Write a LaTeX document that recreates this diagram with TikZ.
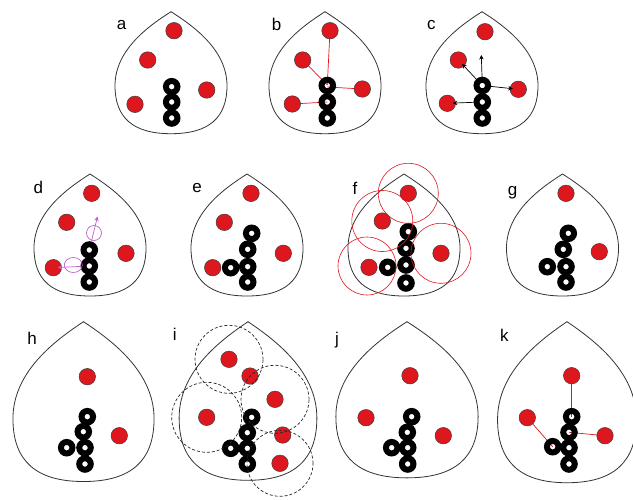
\documentclass[tikz,border=0pt]{standalone}
\usepackage{fontspec}
\setmainfont{Liberation Sans}
\usetikzlibrary{arrows.meta}
\definecolor{discred}{RGB}{222,22,30}
\definecolor{purp}{RGB}{192,96,205}

\begin{document}
\begin{tikzpicture}[x=1pt,y=-1pt]
                \tikzset{disc/.style={circle, draw=black!75, line width=0.5pt, fill=discred, minimum size=16.5pt, inner sep=0pt},
                  ring/.style={circle, draw=black, line width=6pt, minimum size=11.5pt, inner sep=0pt},
                  tag/.style={font=\fontsize{17}{20}\selectfont, inner sep=0pt},
                  link/.style={draw=discred, line width=0.7pt},
                  push/.style={-{Stealth[length=4.5pt,width=4.5pt]}, line width=0.7pt},
                  reach/.style={draw=discred, line width=0.6pt},
                  zone/.style={draw=black!85, dash pattern=on 3pt off 2pt, line width=0.7pt},
                  drop/.pic={\draw[black!80, line width=0.8pt] (0,0) .. controls (-22,14) and (-56,38) .. (-56,74)
                     .. controls (-56,106) and (-38,122) .. (0,122) .. controls (38,122) and (56,106) .. (56,74)
                     .. controls (56,38) and (22,14) .. cycle;}}
                \useasboundingbox (0,0) rectangle (633,499);

                % a
                \pic at (171,11.7) {drop};
                \node[tag] (La) at (121.7,25) {a};
                \node[disc] (A1) at (174,30.7) {};
                \node[disc] (A2) at (147.7,60) {};
                \node[disc] (A3) at (206.7,90) {};
                \node[disc] (A4) at (135,104.3) {};
                \node[ring] (AR1) at (171.7,86.7) {};
                \node[ring] (AR2) at (171.7,102) {};
                \node[ring] (AR3) at (171.7,118) {};

                % b
                \pic at (325,11.7) {drop};
                \node[tag] (Lb) at (276.7,24) {b};
                \draw[link] (330,30.7) -- (327.3,85);
                \draw[link] (302.7,60) -- (327.3,85);
                \draw[link] (362.3,89) -- (327.3,87);
                \draw[link] (292.3,104) -- (327.3,102);
                \node[disc] (B1) at (330,30.7) {};
                \node[disc] (B2) at (302.7,60) {};
                \node[disc] (B3) at (362.3,89) {};
                \node[disc] (B4) at (292.3,104) {};
                \node[ring] (BR1) at (327.3,85.5) {};
                \node[ring] (BR2) at (327.3,102) {};
                \node[ring] (BR3) at (327.3,118) {};

                % c
                \pic at (482,11.7) {drop};
                \node[tag] (Lc) at (431.3,25.3) {c};
                \node[disc] (C1) at (485,31.7) {};
                \node[disc] (C2) at (458.3,60) {};
                \node[disc] (C3) at (518.3,89.3) {};
                \node[disc] (C4) at (447.3,103.3) {};
                \node[ring] (CR1) at (482.3,85.5) {};
                \node[ring] (CR2) at (482.3,102) {};
                \node[ring] (CR3) at (482.3,118) {};
                \coordinate (Cup) at (481.3,55);
                \draw[push] (CR1) -- (Cup);
                \draw[push, shorten >=-3pt] (CR1) -- (C2);
                \draw[push, shorten >=-3pt] (CR1) -- (C3);
                \draw[push, shorten >=-3pt] (CR2) -- (C4);

                % d
                \pic at (90,174) {drop};
                \node[tag] (Ld) at (38.3,187.3) {d};
                \node[disc] (D1) at (91.7,193.3) {};
                \node[disc] (D2) at (66.7,222.3) {};
                \node[disc] (D3) at (126,253.3) {};
                \node[disc] (D4) at (53.3,267.7) {};
                \node[ring] (DR1) at (89.3,250) {};
                \node[ring] (DR2) at (89.3,266) {};
                \node[ring] (DR3) at (89.3,282) {};
                \draw[purp, line width=0.7pt] (94,233) circle[radius=7.5pt];
                \draw[purp, line width=0.7pt] (73.3,265) circle[x radius=9pt, y radius=7.5pt];
                \coordinate (Dup) at (97.5,216.5);
                \draw[purp, push] (DR1) -- (Dup);
                \draw[purp, push, shorten >=-4pt] (DR2) -- (D4);

                % e
                \pic at (247,174) {drop};
                \node[tag] (Le) at (197,188.3) {e};
                \node[disc] (E1) at (251,193.3) {};
                \node[disc] (E2) at (224.3,222.3) {};
                \node[disc] (E3) at (283.3,253.3) {};
                \node[disc] (E4) at (212.7,267.7) {};
                \node[ring] (ER1) at (251.7,233.3) {};
                \node[ring] (ER2) at (247.7,249.3) {};
                \node[ring] (ER3) at (247.7,266.7) {};
                \node[ring] (ER4) at (247.7,282) {};
                \node[ring] (ER5) at (230.7,267.7) {};

                % f
                \pic at (404,174) {drop};
                \node[tag] (Lf) at (355,188.3) {f};
                \node[disc] (F1) at (408.3,193.3) {};
                \node[disc] (F2) at (382.3,221) {};
                \node[disc] (F3) at (441,253.3) {};
                \node[disc] (F4) at (369,267.3) {};
                \node[ring] (FR1) at (408.3,231.7) {};
                \node[ring] (FR2) at (406,248.3) {};
                \node[ring] (FR3) at (406,265) {};
                \node[ring] (FR4) at (406,283) {};
                \node[ring] (FR5) at (387.7,267.3) {};
                \draw[reach] (F1) circle[radius=30pt];
                \draw[reach] (F2) circle[radius=30.5pt];
                \draw[reach] (F3) circle[radius=30pt];
                \draw[reach] (367,266) circle[radius=29pt];

                % g
                \pic at (562.5,174) {drop};
                \node[tag] (Lg) at (512.7,192.7) {g};
                \node[disc] (G1) at (566,193.3) {};
                \node[disc] (G2) at (599.3,251.7) {};
                \node[ring] (GR1) at (568.3,233.3) {};
                \node[ring] (GR2) at (563.3,249.3) {};
                \node[ring] (GR3) at (566,266.7) {};
                \node[ring] (GR4) at (566,282) {};
                \node[ring] (GR5) at (547.3,266.7) {};

                % h
                \pic[xscale=1.26, yscale=1.31] at (83.5,321.7) {drop};
                \node[tag] (Lh) at (32,338.3) {h};
                \node[disc] (H1) at (87.3,376.7) {};
                \node[disc] (H2) at (119.3,435.7) {};
                \node[ring] (HR1) at (87.3,416.7) {};
                \node[ring] (HR2) at (83.3,431.7) {};
                \node[ring] (HR3) at (85,447.7) {};
                \node[ring] (HR4) at (85,464) {};
                \node[ring] (HR5) at (66.7,447.7) {};

                % i
                \pic[xscale=1.23, yscale=1.30] at (248,321.7) {drop};
                \node[tag] (Li) at (174.7,334) {i};
                \node[disc] (I1) at (229,359.3) {};
                \node[disc] (I2) at (250,376) {};
                \node[disc] (I3) at (275,399.3) {};
                \node[disc] (I4) at (206.7,417.3) {};
                \node[disc] (I5) at (282.7,435) {};
                \node[disc] (I6) at (280,463.3) {};
                \node[ring] (IR1) at (251.7,417.3) {};
                \node[ring] (IR2) at (247.3,432.7) {};
                \node[ring] (IR3) at (247.3,448.3) {};
                \node[ring] (IR4) at (247.3,464) {};
                \node[ring] (IR5) at (230.7,448.3) {};
                \draw[zone] (I1) circle[radius=34pt];
                \draw[zone] (I3) circle[radius=34pt];
                \draw[zone] (I4) circle[radius=35pt];
                \draw[zone] (I6) circle[radius=33pt];

                % j
                \pic[xscale=1.27, yscale=1.28] at (407,321.7) {drop};
                \node[tag] (Lj) at (337,340) {j};
                \node[disc] (J1) at (410,375.7) {};
                \node[disc] (J2) at (366,417.7) {};
                \node[disc] (J3) at (443.3,435.7) {};
                \node[ring] (JR1) at (411.7,416.7) {};
                \node[ring] (JR2) at (407.3,432.3) {};
                \node[ring] (JR3) at (407.7,447.7) {};
                \node[ring] (JR4) at (407.7,464) {};
                \node[ring] (JR5) at (391.7,447.7) {};

                % k
                \pic[xscale=1.24, yscale=1.32] at (567,321.7) {drop};
                \node[tag] (Lk) at (504.3,335) {k};
                \draw[link] (571.7,375.7) -- (571.7,416.7);
                \draw[link] (527.3,417.7) -- (552.7,446.7);
                \draw[link] (605,435.7) -- (569,432.3);
                \node[disc] (K1) at (571.7,375.7) {};
                \node[disc] (K2) at (527.3,417.7) {};
                \node[disc] (K3) at (605,435.7) {};
                \node[ring] (KR1) at (571.7,416.7) {};
                \node[ring] (KR2) at (569,432.3) {};
                \node[ring] (KR3) at (569,447.7) {};
                \node[ring] (KR4) at (569,464) {};
                \node[ring] (KR5) at (552.7,446.7) {};

            \end{tikzpicture}
\end{document}
